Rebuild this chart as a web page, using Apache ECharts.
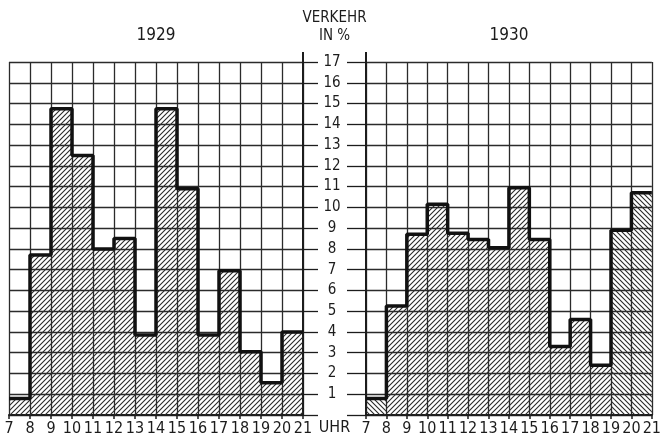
<!DOCTYPE html>
<html lang="de">
<head>
<meta charset="utf-8">
<title>Verkehr in %</title>
<script src="https://cdn.jsdelivr.net/npm/echarts@6/dist/echarts.min.js"></script>
<style>
  html, body { margin: 0; padding: 0; background: #fff; }
  #main { width: 664px; height: 441px; }
</style>
</head>
<body>
<div id="main"></div>
<script>
// Stundenbeginn (7 = 7-8 Uhr ... 20 = 20-21 Uhr)
var hours = [7, 8, 9, 10, 11, 12, 13, 14, 15, 16, 17, 18, 19, 20];
// Verkehr in % je Stunde
var traffic1929 = [0.8, 7.7, 14.75, 12.5, 8.0, 8.5, 3.85, 14.75, 10.9, 3.85, 6.95, 3.05, 1.55, 4.0];
var traffic1930 = [0.8, 5.25, 8.7, 10.15, 8.75, 8.45, 8.05, 10.95, 8.45, 3.3, 4.6, 2.4, 8.9, 10.7];
var yearLabels = ['1929', '1930'];

// Schraffur-Richtung je Balken (nur Stil)
var hatch1929 = ['/', '/', '/', '/', '/', '/', '/', '/', '/', '/', '/', '/', '/', '/'];
var hatch1930 = ['\\', '/', '/', '/', '/', '/', '/', '/', '/', '/', '/', '/', '\\', '\\'];

var FONT = '"Liberation Sans Narrow", "DejaVu Sans Condensed", "Roboto", sans-serif';
var INK = '#1c1c1c';

function makeHatch(dir) {
    var s = 5;
    var c = document.createElement('canvas');
    c.width = s; c.height = s;
    var g = c.getContext('2d');
    g.strokeStyle = '#2a2a2a';
    g.lineWidth = 1.1;
    g.beginPath();
    if (dir === '/') {
        g.moveTo(-1, s + 1); g.lineTo(s + 1, -1);
        g.moveTo(-1, 1); g.lineTo(1, -1);
        g.moveTo(s - 1, s + 1); g.lineTo(s + 1, s - 1);
    } else {
        g.moveTo(-1, -1); g.lineTo(s + 1, s + 1);
        g.moveTo(s - 1, -1); g.lineTo(s + 1, 1);
        g.moveTo(-1, s - 1); g.lineTo(1, s + 1);
    }
    g.stroke();
    return c;
}
var patterns = { '/': makeHatch('/'), '\\': makeHatch('\\') };

function barData(vals, hatch) {
    return vals.map(function (v, i) { return [hours[i], v, hatch[i] === '/' ? 0 : 1]; });
}
function stepData(vals) {
    var d = vals.map(function (v, i) { return [hours[i], v]; });
    d.push([hours[hours.length - 1] + 1, vals[vals.length - 1]]);
    return d;
}

function renderBar(params, api) {
    var x = api.value(0), v = api.value(1);
    var p0 = api.coord([x, v]);
    var p1 = api.coord([x + 1, 0]);
    var img = api.value(2) === 0 ? patterns['/'] : patterns['\\'];
    return {
        type: 'rect',
        shape: { x: p0[0], y: p0[1], width: p1[0] - p0[0], height: p1[1] - p0[1] },
        style: { fill: { image: img, repeat: 'repeat' } },
        z2: 1
    };
}

function xAxisCfg(gridIndex) {
    return {
        gridIndex: gridIndex, type: 'value', min: 7, max: 21, interval: 1,
        axisLine: { show: true, onZero: false, lineStyle: { color: INK, width: 2 } },
        axisTick: { show: true, length: 4, lineStyle: { color: INK, width: 1.5 } },
        axisLabel: { color: INK, fontFamily: FONT, fontSize: 16, margin: 6 },
        splitLine: { show: true, lineStyle: { color: '#2b2b2b', width: 1.3 } }
    };
}

var chart = echarts.init(document.getElementById('main'));

chart.setOption({
    animation: false,
    backgroundColor: '#fff',
    grid: [
        { left: 9, right: 361, top: 62, bottom: 26 },
        { left: 366, right: 7, top: 62, bottom: 26 }
    ],
    xAxis: [xAxisCfg(0), xAxisCfg(1)],
    yAxis: [
        {
            gridIndex: 0, type: 'value', position: 'right', min: 0, max: 17, interval: 1,
            axisLine: { show: true, lineStyle: { color: INK, width: 2 } },
            axisTick: { show: true, length: 15, lineStyle: { color: INK, width: 1.3 } },
            axisLabel: {
                color: INK, fontFamily: FONT, fontSize: 15, margin: 29, align: 'center',
                formatter: function (v) { return v === 0 ? '' : String(v); }
            },
            splitLine: { show: true, lineStyle: { color: '#2b2b2b', width: 1.3 } }
        },
        {
            gridIndex: 1, type: 'value', position: 'left', min: 0, max: 17, interval: 1,
            axisLine: { show: true, lineStyle: { color: INK, width: 2 } },
            axisTick: { show: true, length: 19, lineStyle: { color: INK, width: 1.3 } },
            axisLabel: { show: false },
            splitLine: { show: true, lineStyle: { color: '#2b2b2b', width: 1.3 } }
        }
    ],
    series: [
        {
            name: yearLabels[0], type: 'custom', xAxisIndex: 0, yAxisIndex: 0,
            renderItem: renderBar, data: barData(traffic1929, hatch1929), z: 3
        },
        {
            name: yearLabels[1], type: 'custom', xAxisIndex: 1, yAxisIndex: 1,
            renderItem: renderBar, data: barData(traffic1930, hatch1930), z: 3
        },
        {
            type: 'line', step: 'end', xAxisIndex: 0, yAxisIndex: 0, symbol: 'none',
            lineStyle: { color: '#111', width: 3.5 }, data: stepData(traffic1929), z: 4
        },
        {
            type: 'line', step: 'end', xAxisIndex: 1, yAxisIndex: 1, symbol: 'none',
            lineStyle: { color: '#111', width: 3.5 }, data: stepData(traffic1930), z: 4
        }
    ]
});

// Texte und kleine Achsen-Überstände oben
var pL = chart.convertToPixel({ gridIndex: 0 }, [21, 17]);
var pR = chart.convertToPixel({ gridIndex: 1 }, [7, 17]);
var p0L = chart.convertToPixel({ gridIndex: 0 }, [14, 0]);
var p0R = chart.convertToPixel({ gridIndex: 1 }, [14, 0]);
var txt = function (s, x, y, size) {
    return {
        type: 'text', x: x, y: y,
        style: { text: s, fill: INK, font: size + 'px ' + FONT, textAlign: 'center', textVerticalAlign: 'middle' }
    };
};
chart.setOption({
    graphic: [
        txt(yearLabels[0], p0L[0], 36, 17),
        txt(yearLabels[1], p0R[0], 36, 17),
        txt('VERKEHR', (pL[0] + pR[0]) / 2, 18, 15),
        txt('IN %', (pL[0] + pR[0]) / 2, 36, 15),
        txt('UHR', (pL[0] + pR[0]) / 2, 428, 16),
        { type: 'line', shape: { x1: pL[0], y1: pL[1] - 10, x2: pL[0], y2: pL[1] }, style: { stroke: INK, lineWidth: 2 } },
        { type: 'line', shape: { x1: pR[0], y1: pR[1] - 10, x2: pR[0], y2: pR[1] }, style: { stroke: INK, lineWidth: 2 } }
    ]
});
</script>
</body>
</html>
